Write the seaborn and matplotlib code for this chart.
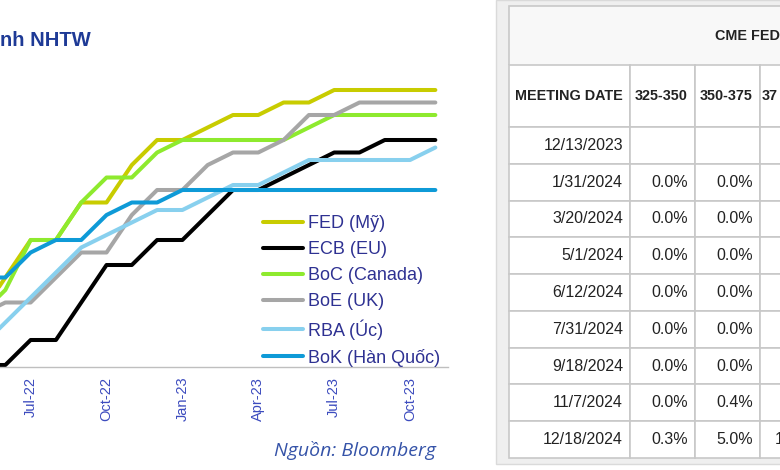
import numpy as np
import pandas as pd
import matplotlib
matplotlib.use("Agg")
import matplotlib.pyplot as plt
import seaborn as sns
from matplotlib.patches import Rectangle

# ---------------- data ----------------
months = ["May-22", "Jun-22", "Jul-22", "Aug-22", "Sep-22", "Oct-22", "Nov-22", "Dec-22",
          "Jan-23", "Feb-23", "Mar-23", "Apr-23", "May-23", "Jun-23", "Jul-23", "Aug-23",
          "Sep-23", "Oct-23", "Nov-23"]
fed = [1.0, 1.75, 2.5, 2.5, 3.25, 3.25, 4.0, 4.5, 4.5, 4.75, 5.0, 5.0, 5.25, 5.25, 5.5, 5.5, 5.5, 5.5, 5.5]
ecb = [0.0, 0.0, 0.5, 0.5, 1.25, 2.0, 2.0, 2.5, 2.5, 3.0, 3.5, 3.5, 3.75, 4.0, 4.25, 4.25, 4.5, 4.5, 4.5]
boc = [1.0, 1.5, 2.5, 2.5, 3.25, 3.75, 3.75, 4.25, 4.5, 4.5, 4.5, 4.5, 4.5, 4.75, 5.0, 5.0, 5.0, 5.0, 5.0]
boe = [1.0, 1.25, 1.25, 1.75, 2.25, 2.25, 3.0, 3.5, 3.5, 4.0, 4.25, 4.25, 4.5, 5.0, 5.0, 5.25, 5.25, 5.25, 5.25]
rba = [0.35, 0.85, 1.35, 1.85, 2.35, 2.6, 2.85, 3.1, 3.1, 3.35, 3.6, 3.6, 3.85, 4.1, 4.1, 4.1, 4.1, 4.1, 4.35]
bok = [1.75, 1.75, 2.25, 2.5, 2.5, 3.0, 3.25, 3.25, 3.5, 3.5, 3.5, 3.5, 3.5, 3.5, 3.5, 3.5, 3.5, 3.5, 3.5]

banks = ["FED (Mỹ)", "ECB (EU)", "BoC (Canada)", "BoE (UK)", "RBA (Úc)", "BoK (Hàn Quốc)"]
series = [fed, ecb, boc, boe, rba, bok]
colors = ["#C8CC00", "#000000", "#8EEA2E", "#A6A6A6", "#88D0EE", "#0E9AD7"]
tick_months = ["Jul-22", "Oct-22", "Jan-23", "Apr-23", "Jul-23", "Oct-23"]

# title as visible in the (cropped) reference
title_text = "nh NHTW"
source_text = "Nguồn: Bloomberg"

# table header as visible in the (cropped) reference
table_title = "CME FED"
table_cols = ["MEETING DATE", "325-350", "350-375", "37"]
meeting_dates = ["12/13/2023", "1/31/2024", "3/20/2024", "5/1/2024", "6/12/2024",
                 "7/31/2024", "9/18/2024", "11/7/2024", "12/18/2024"]
p325 = ["", "0.0%", "0.0%", "0.0%", "0.0%", "0.0%", "0.0%", "0.0%", "0.3%"]
p350 = ["", "0.0%", "0.0%", "0.0%", "0.0%", "0.0%", "0.0%", "0.4%", "5.0%"]
p375 = ["", "", "", "", "", "", "", "", "1"]

# ---------------- style ----------------
sns.set_style("white")
plt.rcParams["font.family"] = ["Liberation Sans", "DejaVu Sans"]

W, H = 780, 470
fig = plt.figure(figsize=(W / 100, H / 100), dpi=100)
fig.patch.set_facecolor("white")

def fx(px):
    return px / W

def fy(py):
    return 1 - py / H

# ---------------- line chart ----------------
df = pd.DataFrame({
    "m": np.tile(np.arange(len(months)), len(banks)),
    "rate": np.concatenate([np.array(s, dtype=float) for s in series]),
    "bank": np.repeat(banks, len(months)),
})

left_px, right_px = -32.6, 448.0
top_px, bot_px = 65.0, 367.0
ax = fig.add_axes([fx(left_px), fy(bot_px), fx(right_px - left_px), (bot_px - top_px) / H])
sns.lineplot(data=df, x="m", y="rate", hue="bank", hue_order=banks,
             palette=dict(zip(banks, colors)), linewidth=2.9, sort=False,
             legend=False, ax=ax)
ax.set_xlim(-0.5, len(months) - 0.5)
ax.set_ylim(-0.04, 6.0)
ax.set_xlabel("")
ax.set_ylabel("")
ax.set_yticks([])
for s in ["left", "top", "right"]:
    ax.spines[s].set_visible(False)
ax.spines["bottom"].set_color("#BFBFBF")
ax.spines["bottom"].set_linewidth(1.0)

label_pos = [months.index(t) for t in tick_months]
ax.set_xticks([p - 0.5 for p in label_pos])
ax.set_xticks(label_pos, minor=True)
ax.set_xticklabels(tick_months, minor=True, rotation=90, fontsize=10.5, color="#3C4BBE")
ax.tick_params(axis="x", which="major", length=5, width=1, color="#BFBFBF",
               direction="out", labelbottom=False)
ax.tick_params(axis="x", which="minor", length=0, pad=7)

leg = ax.legend(ax.lines[:len(banks)], banks, loc="upper left",
                bbox_to_anchor=(fx(263), fy(215)), bbox_transform=fig.transFigure,
                frameon=False, fontsize=13, handlelength=2.2, handletextpad=0.3,
                labelspacing=0.5, borderpad=0, borderaxespad=0, labelcolor="#2E3192")

fig.text(fx(0), fy(40), title_text, ha="left", va="center", fontsize=14.5,
         fontweight="bold", color="#1E3A96")
fig.text(fx(436), fy(451), source_text, ha="right", va="center", fontsize=14,
         style="italic", color="#3553A8", family=["Open Sans", "DejaVu Sans"])

# ---------------- table panel ----------------
fig.patches.append(Rectangle((fx(496), fy(464)), fx(300), 464 / H,
                             transform=fig.transFigure, facecolor="#EFEFEF",
                             edgecolor="#DADADA", linewidth=1.0, zorder=-5))

t_left, t_top, t_bot = 509, 6, 458
col_w = [121, 65, 65, 65]
t_right = t_left + sum(col_w)
ax_t = fig.add_axes([fx(t_left), fy(t_bot), fx(t_right - t_left), (t_bot - t_top) / H])
ax_t.set_zorder(2)
ax_t.axis("off")

row_h = [59, 62] + [36.8] * len(meeting_dates)
# background of the merged top header cell
ax_t.add_patch(Rectangle((0, 1 - row_h[0] / sum(row_h)), 1, row_h[0] / sum(row_h),
                         transform=ax_t.transAxes, facecolor="#F8F8F8",
                         edgecolor="none", zorder=0))

cell_text = [[""] * 4, table_cols] + [list(r) for r in zip(meeting_dates, p325, p350, p375)]
tbl = ax_t.table(cellText=cell_text, cellLoc="right", colWidths=col_w, bbox=[0, 0, 1, 1])
tbl.set_zorder(1)
tbl.auto_set_font_size(False)
for (r, c), cell in tbl.get_celld().items():
    cell.set_height(row_h[r])
    cell.set_edgecolor("#C8C8C8")
    cell.set_linewidth(1.2)
    cell.PAD = 7.0 / col_w[c]
    txt = cell.get_text()
    txt.set_color("#222222")
    if c == 3:
        cell._loc = "left"
        cell.PAD = (15.0 if r > 1 else 2.0) / col_w[c]
        txt.set_horizontalalignment("left")
    if r == 0:
        cell.set_facecolor("none")
        cell.visible_edges = "LT" if c == 0 else ("TR" if c == 3 else "T")
    elif r == 1:
        cell.set_facecolor("white")
        txt.set_fontsize(10.4)
        txt.set_fontweight("bold")
    else:
        cell.set_facecolor("white")
        txt.set_fontsize(11.5)

ax_t.text((715 - t_left) / (t_right - t_left), 1 - 30 / (t_bot - t_top), table_title,
          transform=ax_t.transAxes, ha="left", va="center", fontsize=10.4,
          fontweight="bold", color="#222222", zorder=3)

fig.savefig("out.png", dpi=100)
